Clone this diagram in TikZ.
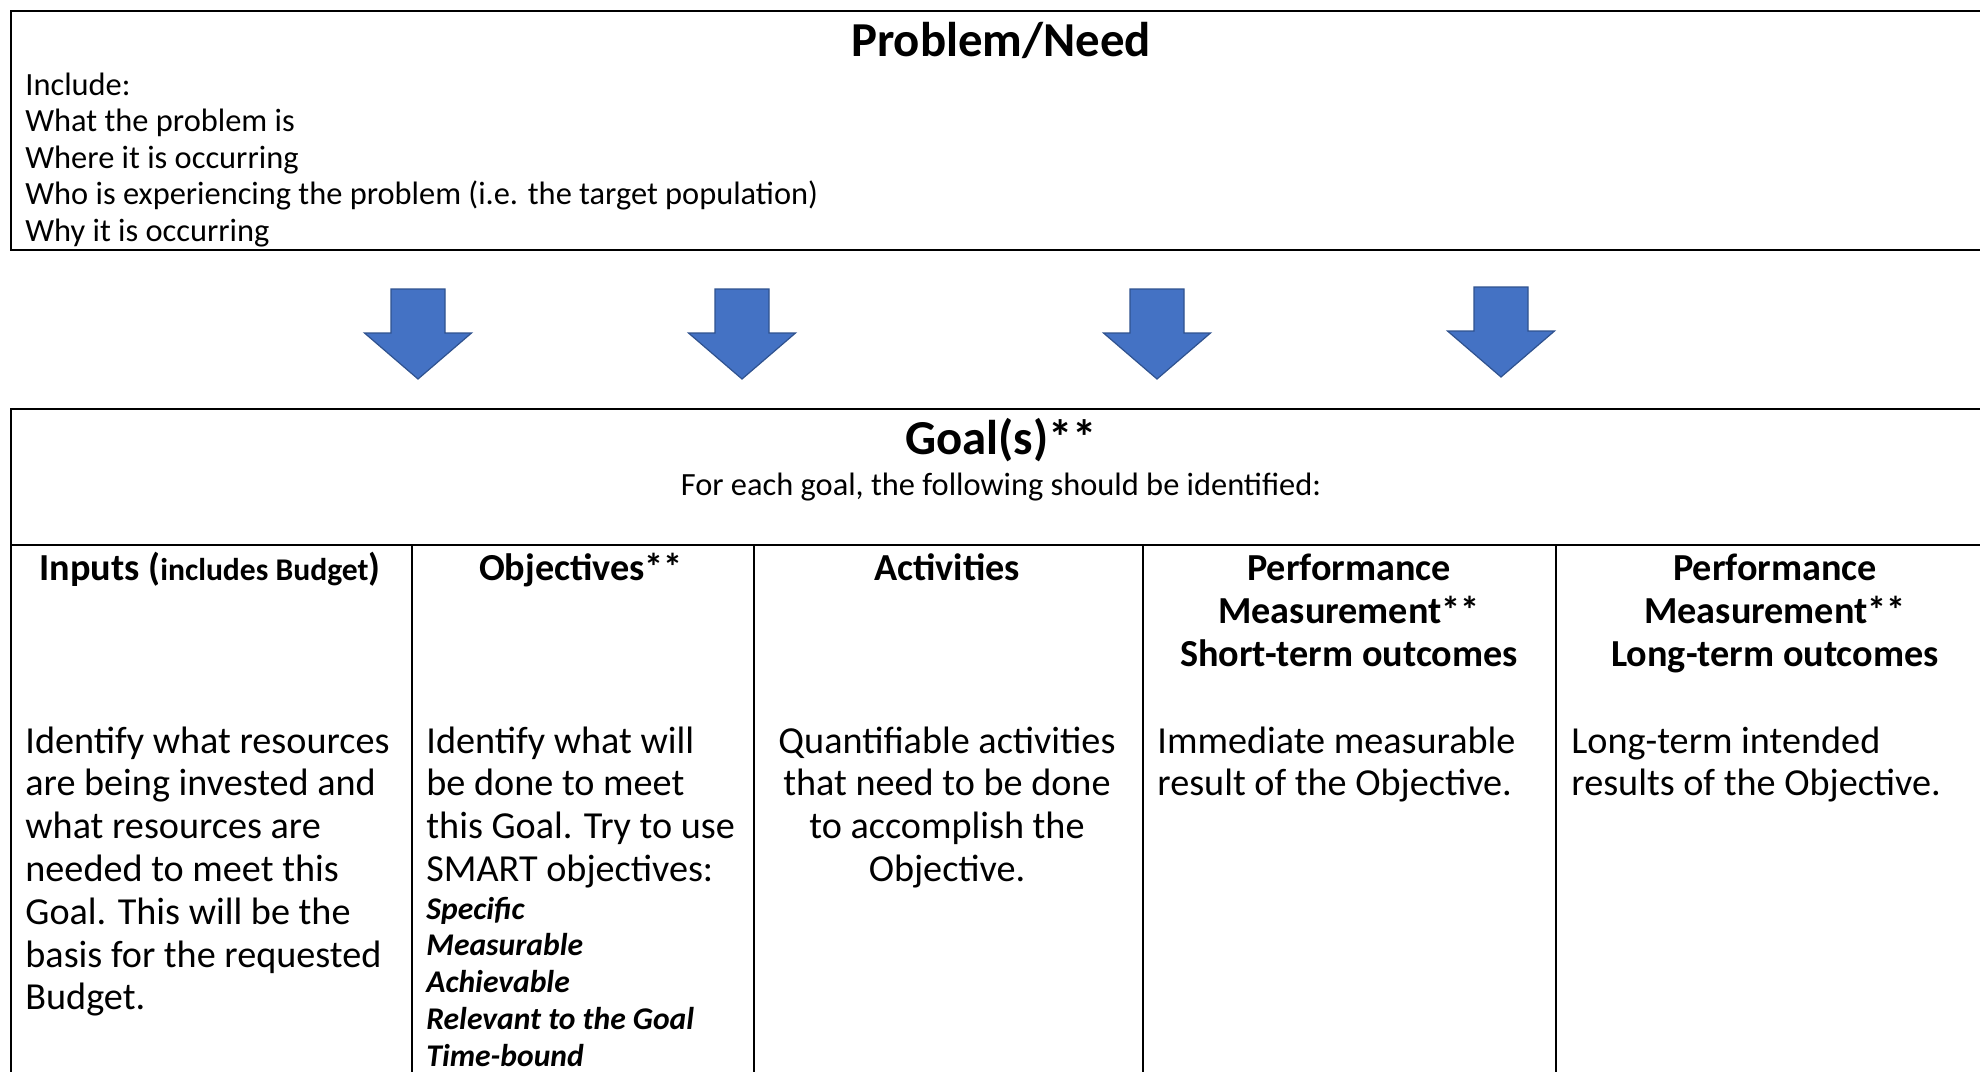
\documentclass[tikz,border=0pt]{standalone}
\usepackage{fontspec}
\setmainfont{Carlito}
\definecolor{arrowblue}{HTML}{4472C4}
\definecolor{arrowedge}{HTML}{2F528F}
\begin{document}
\begin{tikzpicture}[x=0.5pt,y=-0.5pt,
  boxline/.style={draw=black,line width=1.1pt,inner sep=0pt},
  colline/.style={draw=black,line width=1pt},
  titletext/.style={inner sep=0pt,font=\bfseries\fontsize{24.4}{29}\selectfont},
  toptext/.style={inner sep=0pt,anchor=base west,font=\fontsize{16.2}{18}\selectfont},
  subtext/.style={inner sep=0pt,anchor=base,font=\fontsize{16.2}{18}\selectfont},
  headtext/.style={inner sep=0pt,anchor=base,font=\bfseries\fontsize{19.1}{21.4}\selectfont},
  bodytext/.style={inner sep=0pt,font=\fontsize{19.1}{21.4}\selectfont},
  smarttext/.style={inner sep=0pt,anchor=base west,font=\bfseries\itshape\fontsize{15.8}{18}\selectfont},
  blockarrow/.pic={\filldraw[fill=arrowblue,draw=arrowedge,line width=0.6pt,line join=miter]
     (-27,0) -- (27,0) -- (27,44) -- (53.5,44) -- (0,90) -- (-53.5,44) -- (-27,44) -- cycle;}
]
\useasboundingbox (0,0) rectangle (1980,1071);
\clip (0,0) rectangle (1980,1071);
\fill[white] (0,0) rectangle (1980,1071);

% Problem / Need box
\node[boxline,anchor=north west,minimum width=992.5pt,minimum height=119.5pt] (prob) at (10,10) {};
\node[titletext,anchor=base] (probtitle) at (1001,56) {Problem/Need};
\foreach \t [count=\i from 0] in {Include:,What the problem is,Where it is occurring,Who is experiencing the problem (i.e. the target population),Why it is occurring}
  \node[toptext] (pline\i) at (25,95+36.5*\i) {\t};

% Arrows
\pic (arr1) at (418,289) {blockarrow};
\pic (arr2) at (742,289) {blockarrow};
\pic (arr3) at (1157,289) {blockarrow};
\pic (arr4) at (1501,287) {blockarrow};

% Goal box
\node[boxline,anchor=north west,minimum width=992.5pt,minimum height=345pt] (goal) at (10,408) {};
\node[titletext,anchor=base] (goaltitle) at (1001,454) {Goal(s)**};
\node[subtext] (goalsub) at (1001,495) {For each goal, the following should be identified:};
\coordinate (divL) at (10,545);
\coordinate (divR) at (2000,545);
\draw[colline] (divL) -- (divR);
\foreach \x [count=\i] in {412,754,1143,1556}{
  \coordinate (ct\i) at (\x,545);
  \coordinate (cb\i) at (\x,1100);
  \draw[colline] (ct\i) -- (cb\i);
}

% Column headers
\node[headtext] (h1) at (210,580) {Inputs ({\fontsize{15.8}{18}\selectfont includes Budget})};
\node[headtext] (h2) at (581,580) {Objectives**};
\node[headtext] (h3) at (947,580) {Activities};
\foreach \t [count=\i from 0] in {Performance,Measurement**,Short-term outcomes}
  \node[headtext] (h4l\i) at (1349,580+43*\i) {\t};
\foreach \t [count=\i from 0] in {Performance,Measurement**,Long-term outcomes}
  \node[headtext] (h5l\i) at (1775,580+43*\i) {\t};

% Column bodies
\foreach \t [count=\i from 0] in {Identify what resources,are being invested and,what resources are,needed to meet this,Goal. This will be the,basis for the requested,Budget.}
  \node[bodytext,anchor=base west] (b1l\i) at (25,753+42.8*\i) {\t};
\foreach \t [count=\i from 0] in {Identify what will,be done to meet,this Goal. Try to use,SMART objectives:}
  \node[bodytext,anchor=base west] (b2l\i) at (426,753+42.8*\i) {\t};
\foreach \t [count=\i from 0] in {Specific,Measurable,Achievable,Relevant to the Goal,Time-bound}
  \node[smarttext] (s\i) at (426,919+36.75*\i) {\t};
\foreach \t [count=\i from 0] in {Quantifiable activities,that need to be done,to accomplish the,Objective.}
  \node[bodytext,anchor=base] (b3l\i) at (947,753+42.8*\i) {\t};
\foreach \t [count=\i from 0] in {Immediate measurable,result of the Objective.}
  \node[bodytext,anchor=base west] (b4l\i) at (1157,753+42.8*\i) {\t};
\foreach \t [count=\i from 0] in {Long-term intended,results of the Objective.}
  \node[bodytext,anchor=base west] (b5l\i) at (1571,753+42.8*\i) {\t};
\end{tikzpicture}
\end{document}
